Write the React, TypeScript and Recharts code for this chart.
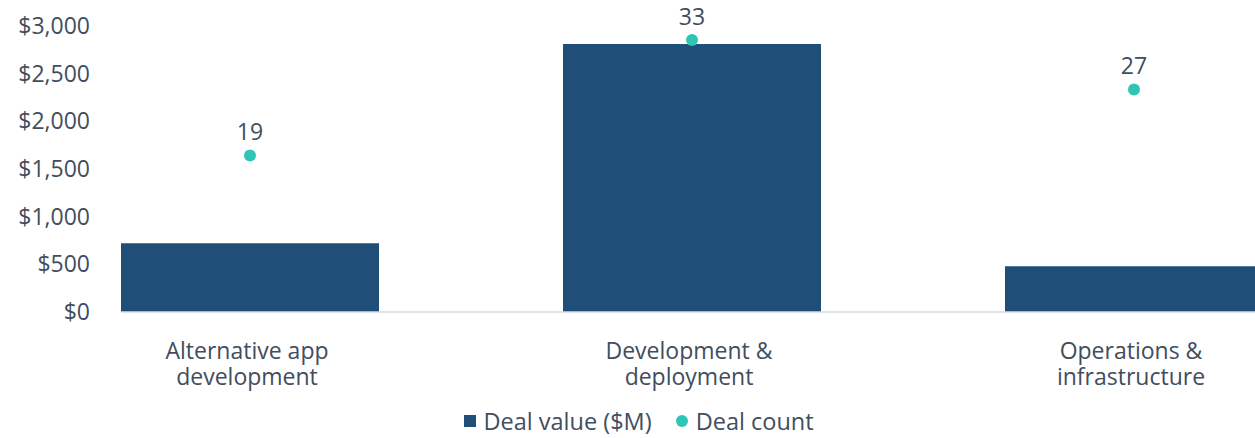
import {
  ComposedChart,
  Bar,
  Scatter,
  XAxis,
  YAxis,
  Legend,
  LabelList,
} from "recharts";

const categories = [
  "Alternative app development",
  "Development & deployment",
  "Operations & infrastructure",
];
const categoryLines = [
  ["Alternative app", "development"],
  ["Development &", "deployment"],
  ["Operations &", "infrastructure"],
];
const dealValues = [720, 2810, 480];
const dealCounts = [19, 33, 27];
const valueTicks = [0, 500, 1000, 1500, 2000, 2500, 3000];

const BAR_COLOR = "#1F4E79";
const DOT_COLOR = "#2EC4B6";
const TEXT_COLOR = "#414E5E";
const FONT = "'Open Sans', sans-serif";

const data = categories.map((name, i) => ({
  name,
  value: dealValues[i],
  count: dealCounts[i],
}));

function CategoryTick(props: any) {
  const { x, y, index } = props;
  const lines = categoryLines[index] || [];
  return (
    <text
      x={x}
      y={y}
      textAnchor="middle"
      fill={TEXT_COLOR}
      fontSize={23}
      fontFamily={FONT}
    >
      {lines.map((line, i) => (
        <tspan key={i} x={x - 3} dy={i === 0 ? 39 : 26}>
          {line}
        </tspan>
      ))}
    </text>
  );
}

function LegendContent() {
  return (
    <div
      style={{
        display: "flex",
        justifyContent: "center",
        alignItems: "center",
        fontFamily: FONT,
        fontSize: 23.5,
        color: TEXT_COLOR,
        height: 40,
        paddingTop: 6,
        boxSizing: "border-box",
      }}
    >
      <span
        style={{ width: 12, height: 12, background: BAR_COLOR, marginRight: 7 }}
      />
      <span>Deal value ($M)</span>
      <span
        style={{
          width: 12,
          height: 12,
          borderRadius: 6,
          background: DOT_COLOR,
          marginLeft: 24,
          marginRight: 8,
        }}
      />
      <span>Deal count</span>
    </div>
  );
}

export default function App() {
  return (
    <div
      style={{
        width: 1255,
        height: 438,
        overflow: "hidden",
        position: "relative",
        background: "#fff",
      }}
    >
      <style>{`body{margin:0}`}</style>
      <ComposedChart
        width={1355}
        height={438}
        data={data}
        margin={{ top: 26, right: 0, bottom: 0, left: 0 }}
      >
        <XAxis
          dataKey="name"
          height={86}
          padding={{ left: -92, right: 0 }}
          axisLine={{ stroke: "#D6DCE5", strokeWidth: 1.5 }}
          tickLine={false}
          tick={<CategoryTick />}
          interval={0}
        />
        <YAxis
          yAxisId="left"
          width={121}
          domain={[0, 3000]}
          ticks={valueTicks}
          axisLine={false}
          tickLine={false}
          tickMargin={25}
          tick={{ fill: TEXT_COLOR, fontSize: 23, fontFamily: FONT }}
          tickFormatter={(v: number) => `$${v.toLocaleString("en-US")}`}
        />
        <YAxis yAxisId="right" orientation="right" hide domain={[0, 34.7]} />
        <Legend
          verticalAlign="bottom"
          height={40}
          content={<LegendContent />}
          wrapperStyle={{ left: 0, width: 1278 }}
        />
        <Bar
          yAxisId="left"
          dataKey="value"
          name="Deal value ($M)"
          fill={BAR_COLOR}
          barSize={258}
          isAnimationActive={false}
        />
        <Scatter
          yAxisId="right"
          dataKey="count"
          name="Deal count"
          fill={DOT_COLOR}
          isAnimationActive={false}
          shape={(p: any) => <circle cx={p.cx} cy={p.cy} r={6} fill={DOT_COLOR} />}
        >
          <LabelList
            dataKey="count"
            position="top"
            offset={11}
            fill={TEXT_COLOR}
            fontSize={23}
            fontFamily={FONT}
          />
        </Scatter>
      </ComposedChart>
    </div>
  );
}
